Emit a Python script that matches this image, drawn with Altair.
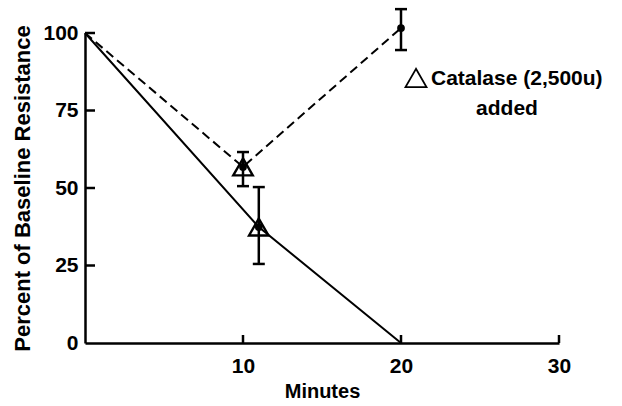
import altair as alt
import pandas as pd

# Airway resistance over time, as percent of baseline
ctrl_minutes = [0, 11, 20]
ctrl_resist = [100, 37.4, 0]
cat_minutes = [0, 10, 20]
cat_resist = [100, 56.8, 101.6]

# Mean +/- error at the measured time points
err_minutes = [10, 11, 20]
err_low = [50.6, 25.5, 94.5]
err_high = [61.6, 50.3, 107.7]

# Points where catalase was given (open triangles)
tri_minutes = [10, 11]
tri_resist = [56.8, 37.4]

x_ticks = [10, 20, 30]
y_ticks = [0, 25, 50, 75, 100]
y_tick_marks = [25, 50, 75, 100]

x_title = "Minutes"
y_title = "Percent of Baseline Resistance"
note_line1 = "Catalase (2,500u)"
note_line2 = "added"

FONT = "Liberation Sans"
W, H = 474, 310

ctrl = pd.DataFrame({"m": ctrl_minutes, "r": ctrl_resist})
cat = pd.DataFrame({"m": cat_minutes, "r": cat_resist})
err = pd.DataFrame({"m": err_minutes, "lo": err_low, "hi": err_high})
tri = pd.DataFrame({"m": tri_minutes, "r": tri_resist})
dots = pd.DataFrame({"m": err_minutes,
                     "r": [cat_resist[1], ctrl_resist[1], cat_resist[2]]})

xs = alt.Scale(domain=[0, 30], nice=False, zero=False)
ys = alt.Scale(domain=[0, 100], nice=False)

x_axis = alt.Axis(values=x_ticks, ticks=False, tickSize=0, grid=False,
                  labelFlush=False,
                  domainColor="black", domainWidth=2.5,
                  labelFont=FONT, labelFontSize=21, labelFontWeight="bold",
                  labelColor="black", labelPadding=12,
                  title=x_title, titleFont=FONT, titleFontSize=20,
                  titleFontWeight="bold", titleColor="black", titlePadding=5)
y_axis = alt.Axis(values=y_ticks, ticks=False, tickSize=0, grid=False,
                  labelFlush=False,
                  domainColor="black", domainWidth=2.5,
                  labelFont=FONT, labelFontSize=21, labelFontWeight="bold",
                  labelColor="black", labelPadding=7,
                  title=y_title, titleFont=FONT, titleFontSize=22,
                  titleFontWeight="bold", titleColor="black", titlePadding=8)

ctrl_line = alt.Chart(ctrl).mark_line(color="black", strokeWidth=2).encode(
    x=alt.X("m:Q", scale=xs, axis=x_axis),
    y=alt.Y("r:Q", scale=ys, axis=y_axis),
)

cat_line = alt.Chart(cat).mark_line(color="black", strokeWidth=2,
                                    strokeDash=[9, 5]).encode(
    x=alt.X("m:Q", scale=xs), y=alt.Y("r:Q", scale=ys))

err_rule = alt.Chart(err).mark_rule(color="black", strokeWidth=2.5).encode(
    x=alt.X("m:Q", scale=xs), y=alt.Y("lo:Q", scale=ys), y2="hi:Q")
cap_lo = alt.Chart(err).mark_tick(color="black", orient="horizontal",
                                  size=12, thickness=2.5, opacity=1).encode(
    x=alt.X("m:Q", scale=xs), y=alt.Y("lo:Q", scale=ys))
cap_hi = alt.Chart(err).mark_tick(color="black", orient="horizontal",
                                  size=12, thickness=2.5, opacity=1).encode(
    x=alt.X("m:Q", scale=xs), y=alt.Y("hi:Q", scale=ys))

tri_marks = alt.Chart(tri).mark_point(shape="triangle-up", filled=False,
                                      color="black", size=380, strokeWidth=2.4,
                                      opacity=1).encode(
    x=alt.X("m:Q", scale=xs), y=alt.Y("r:Q", scale=ys))
dot_marks = alt.Chart(dots).mark_point(shape="circle", filled=True,
                                       color="black", size=60, opacity=1).encode(
    x=alt.X("m:Q", scale=xs), y=alt.Y("r:Q", scale=ys))

# Inward-pointing axis ticks
x_tick_rules = alt.Chart(pd.DataFrame({"m": x_ticks})).mark_rule(
    color="black", strokeWidth=2.5).encode(
    x=alt.X("m:Q", scale=xs), y=alt.value(H), y2=alt.value(H - 8))
y_tick_rules = alt.Chart(pd.DataFrame({"r": y_tick_marks})).mark_rule(
    color="black", strokeWidth=2.5).encode(
    y=alt.Y("r:Q", scale=ys), x=alt.value(0), x2=alt.value(10))

# Annotation key
note_key = alt.Chart(pd.DataFrame({"k": [0]})).mark_point(
    shape="triangle-up", filled=False, color="black", size=440,
    strokeWidth=1.8, opacity=1).encode(x=alt.value(331), y=alt.value(45))
note_text1 = alt.Chart(pd.DataFrame({"t": [note_line1]})).mark_text(
    font=FONT, fontSize=21, fontWeight="bold", color="black",
    align="left", baseline="middle").encode(
    text="t:N", x=alt.value(346), y=alt.value(46))
note_text2 = alt.Chart(pd.DataFrame({"t": [note_line2]})).mark_text(
    font=FONT, fontSize=21, fontWeight="bold", color="black",
    align="center", baseline="middle").encode(
    text="t:N", x=alt.value(422), y=alt.value(76))

chart = alt.layer(
    ctrl_line, cat_line, err_rule, cap_lo, cap_hi, tri_marks, dot_marks,
    x_tick_rules, y_tick_rules, note_key, note_text1, note_text2,
).properties(
    width=W, height=H,
    autosize=alt.AutoSizeParams(type="none"),
    padding={"left": 85, "top": 33, "right": 63, "bottom": 63},
    background="white",
).configure_view(stroke=None)

chart.save("out.html", embed_options={"renderer": "svg", "actions": False})
